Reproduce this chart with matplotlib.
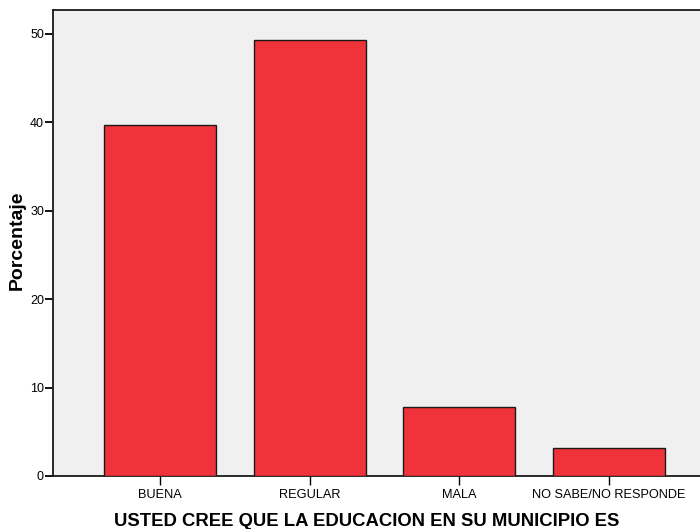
import matplotlib
matplotlib.use("Agg")
import matplotlib.pyplot as plt

# valores (porcentaje)
categorias = ["BUENA", "REGULAR", "MALA", "NO SABE/NO RESPONDE"]
porcentajes = [39.7, 49.3, 7.8, 3.2]
yticks = [0, 10, 20, 30, 40, 50]

plt.rcParams['font.family'] = ['Liberation Sans', 'DejaVu Sans']

fig = plt.figure(figsize=(7, 5.29), dpi=100)
ax = fig.add_axes([53 / 700, 1 - 476 / 529, 1 - 53 / 700, 466 / 529])
ax.set_facecolor("#f0f0f0")

x = range(len(categorias))
ax.bar(x, porcentajes, width=0.75, color="#f0323a", edgecolor="#1a1a1a", linewidth=1.0, zorder=3)

ax.set_xlim(-0.716, 3.61)
ax.set_ylim(0, 52.7)
ax.set_yticks(yticks)
ax.set_xticks(list(x))
ax.set_xticklabels(categorias, fontsize=9.2)
ax.tick_params(axis='y', labelsize=9, length=5.5, width=1.3, direction='out', pad=1)
ax.tick_params(axis='x', length=6.5, width=1.0, direction='out', pad=3)

for side in ['left', 'bottom', 'top']:
    ax.spines[side].set_linewidth(1.3)
    ax.spines[side].set_color("#1a1a1a")
ax.spines['right'].set_visible(False)

# titulos de ejes
fig.text(17 / 700, 1 - 240 / 529, "Porcentaje", rotation=90, ha='center', va='center',
         fontsize=14, fontweight='bold')
fig.text(367 / 700, 1 - 526 / 529, "USTED CREE QUE LA EDUCACION EN SU MUNICIPIO ES",
         ha='center', va='baseline', fontsize=13.3, fontweight='bold')

fig.savefig("out.png", dpi=100)
